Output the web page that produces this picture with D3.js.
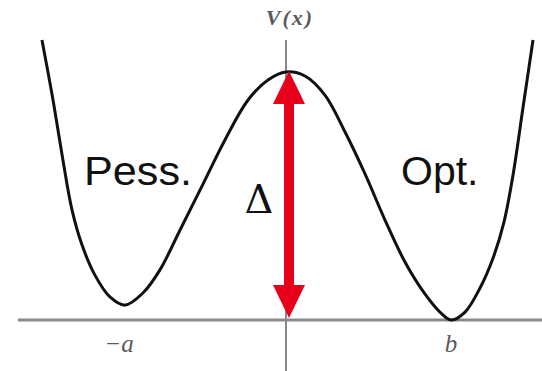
<!DOCTYPE html>
<html lang="en">
<head>
    <meta charset="UTF-8">
    <title>Double well potential</title>
    <script src="https://d3js.org/d3.v7.min.js"></script>
    <style>
        body { margin: 0; background: #fff; }
        .label { font-family: "Liberation Sans", Arial, sans-serif; fill: #111; }
        .math { font-family: "Liberation Serif", "DejaVu Serif", serif; font-style: italic; fill: #5a5a5a; }
    </style>
</head>
<body>
    <svg id="chart" width="542" height="371"></svg>
    <script>
        const width = 542;
        const height = 371;

        // potential V(x) (x in units of b, V in units of the barrier)
        const xs = [-1.479, -1.412, -1.352, -1.297, -1.236, -1.158, -1.067, -0.976, -0.867, -0.764,
                    -0.642, -0.503, -0.370, -0.230, -0.109, 0, 0.115, 0.236, 0.358, 0.479,
                    0.600, 0.721, 0.842, 0.933, 1.0, 1.085, 1.176, 1.255, 1.321, 1.376, 1.436, 1.497];
        const vs = [1.129, 0.887, 0.645, 0.444, 0.302, 0.181, 0.093, 0.060, 0.109, 0.202,
                    0.363, 0.548, 0.726, 0.887, 0.968, 1.0, 0.984, 0.907, 0.758, 0.589,
                    0.403, 0.234, 0.105, 0.032, 0, 0.032, 0.129, 0.250, 0.395, 0.585, 0.855, 1.129];

        const tickPos = [-0.976, 1.0];
        const tickLabels = ["\u2212a", "b"];
        const barrier = [0, 1.0];   // Δ: from the b minimum up to the top of the barrier

        const x = d3.scaleLinear().domain([0, 1]).range([286, 451]);
        const y = d3.scaleLinear().domain([0, 1]).range([320, 72]);

        const svg = d3.select("#chart");

        // axes
        svg.append("line")
            .attr("x1", 18).attr("x2", width)
            .attr("y1", y(0)).attr("y2", y(0))
            .attr("stroke", "#8a8a8a").attr("stroke-width", 3);
        svg.append("line")
            .attr("x1", x(0)).attr("x2", x(0))
            .attr("y1", 40).attr("y2", height)
            .attr("stroke", "#8a8a8a").attr("stroke-width", 2);

        svg.append("text")
            .attr("class", "math")
            .attr("x", x(0) + 4).attr("y", 25)
            .attr("text-anchor", "middle")
            .style("font-size", "22px").style("font-weight", "bold")
            .style("letter-spacing", "2px")
            .text("V(x)");

        svg.selectAll(".tick")
            .data(tickPos)
            .enter()
            .append("text")
            .attr("class", "math tick")
            .attr("x", d => x(d) + (d < 0 ? -6 : 0))
            .attr("y", 352)
            .attr("text-anchor", "middle")
            .style("font-size", "25px")
            .text((d, i) => tickLabels[i]);

        // curve
        const pts = xs.map((d, i) => [d, vs[i]]);
        const line = d3.line()
            .x(d => x(d[0]))
            .y(d => y(d[1]))
            .curve(d3.curveCatmullRom.alpha(0.5));
        svg.append("path")
            .attr("d", line(pts))
            .attr("fill", "none")
            .attr("stroke", "#111")
            .attr("stroke-width", 3);

        // red double arrow
        const ax = x(0) + 3;
        const yTop = y(barrier[1]) - 1, yBot = y(barrier[0]) - 2;
        const head = 33, hw = 16, sw = 5;
        const red = "#e8001a";
        svg.append("rect")
            .attr("x", ax - sw).attr("y", yTop + head - 2)
            .attr("width", sw * 2).attr("height", yBot - yTop - 2 * head + 4)
            .attr("fill", red);
        svg.append("path")
            .attr("d", `M${ax},${yTop} L${ax + hw},${yTop + head} L${ax - hw},${yTop + head} Z`)
            .attr("fill", red);
        svg.append("path")
            .attr("d", `M${ax},${yBot} L${ax + hw},${yBot - head} L${ax - hw},${yBot - head} Z`)
            .attr("fill", red);

        // labels
        svg.append("text")
            .attr("class", "label")
            .attr("x", 84).attr("y", 185)
            .style("font-size", "41px")
            .attr("textLength", 108)
            .attr("lengthAdjust", "spacingAndGlyphs")
            .text("Pess.");
        svg.append("text")
            .attr("class", "label")
            .attr("x", 401).attr("y", 185)
            .style("font-size", "41px")
            .text("Opt.");
        svg.append("text")
            .attr("x", 259).attr("y", 213)
            .attr("text-anchor", "middle")
            .style("font-family", "'DejaVu Serif', serif")
            .style("font-size", "40px")
            .attr("fill", "#111")
            .text("\u0394");
    </script>
</body>
</html>
